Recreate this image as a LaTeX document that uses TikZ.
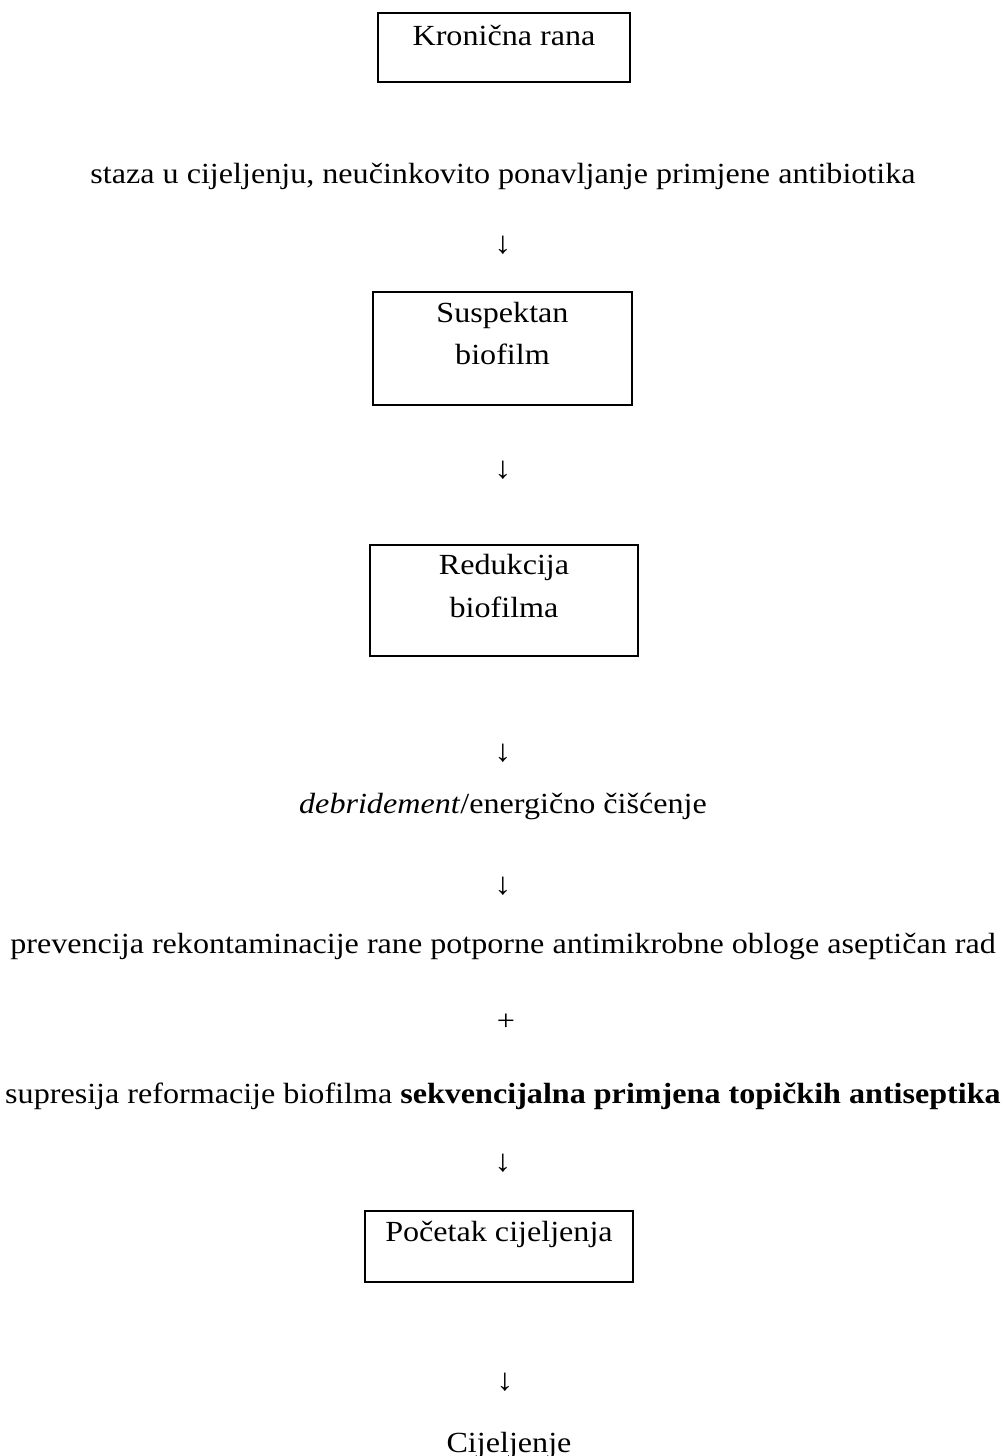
\documentclass[tikz,border=0pt]{standalone}
\usepackage{fontspec}
\setmainfont{Liberation Serif}[FakeStretch=1.1]
\usepackage{tikz}
\usetikzlibrary{positioning}

\tikzset{
  box/.style={draw, line width=2pt, inner sep=0pt},
  txt/.style={inner sep=0pt, anchor=base},
  down/.style={inner sep=0pt, font=\fontsize{31}{36}\selectfont}
}

\begin{document}
\begin{tikzpicture}[x=1pt, y=-1pt, font=\fontsize{29.2}{34}\selectfont]
\useasboundingbox (0,0) rectangle (1005,1456);
% Chronic wound
\node[box, minimum width=252pt, minimum height=69pt] (kron) at (504,47.5) {};
\node[txt] (kront) at (504,45) {Kronična rana};
\node[txt] (staza) at (503,183) {staza u cijeljenju, neučinkovito ponavljanje primjene antibiotika};
\node[down] (d1) at (503,245) {↓};

% Suspected biofilm
\node[box, minimum width=259pt, minimum height=113pt] (susp) at (502.5,348.5) {};
\node[txt] (suspa) at (502.5,322) {Suspektan};
\node[txt] (suspb) at (502.5,364) {biofilm};
\node[down] (d2) at (503,470) {↓};

% Biofilm reduction
\node[box, minimum width=268pt, minimum height=111pt] (red) at (504,600.5) {};
\node[txt] (reda) at (504,574) {Redukcija};
\node[txt] (redb) at (504,617) {biofilma};
\node[down] (d3) at (503,753) {↓};

\node[txt] (debr) at (503,813) {\textit{debridement}/energično čišćenje};
\node[down] (d4) at (503,886) {↓};
\node[txt] (prev) at (503,953) {prevencija rekontaminacije rane potporne antimikrobne obloge aseptičan rad};
\node[inner sep=0pt] (plus) at (506,1022) {+};
\node[txt] (supr) at (503,1103) {supresija reformacije biofilma \textbf{sekvencijalna primjena topičkih antiseptika}};
\node[down] (d5) at (503,1163) {↓};

% Start of healing
\node[box, minimum width=268pt, minimum height=71pt] (poc) at (499,1246.5) {};
\node[txt] (poct) at (499,1241) {Početak cijeljenja};
\node[down] (d6) at (505,1382) {↓};

\node[txt] (cij) at (509,1452) {Cijeljenje};
\end{tikzpicture}
\end{document}
